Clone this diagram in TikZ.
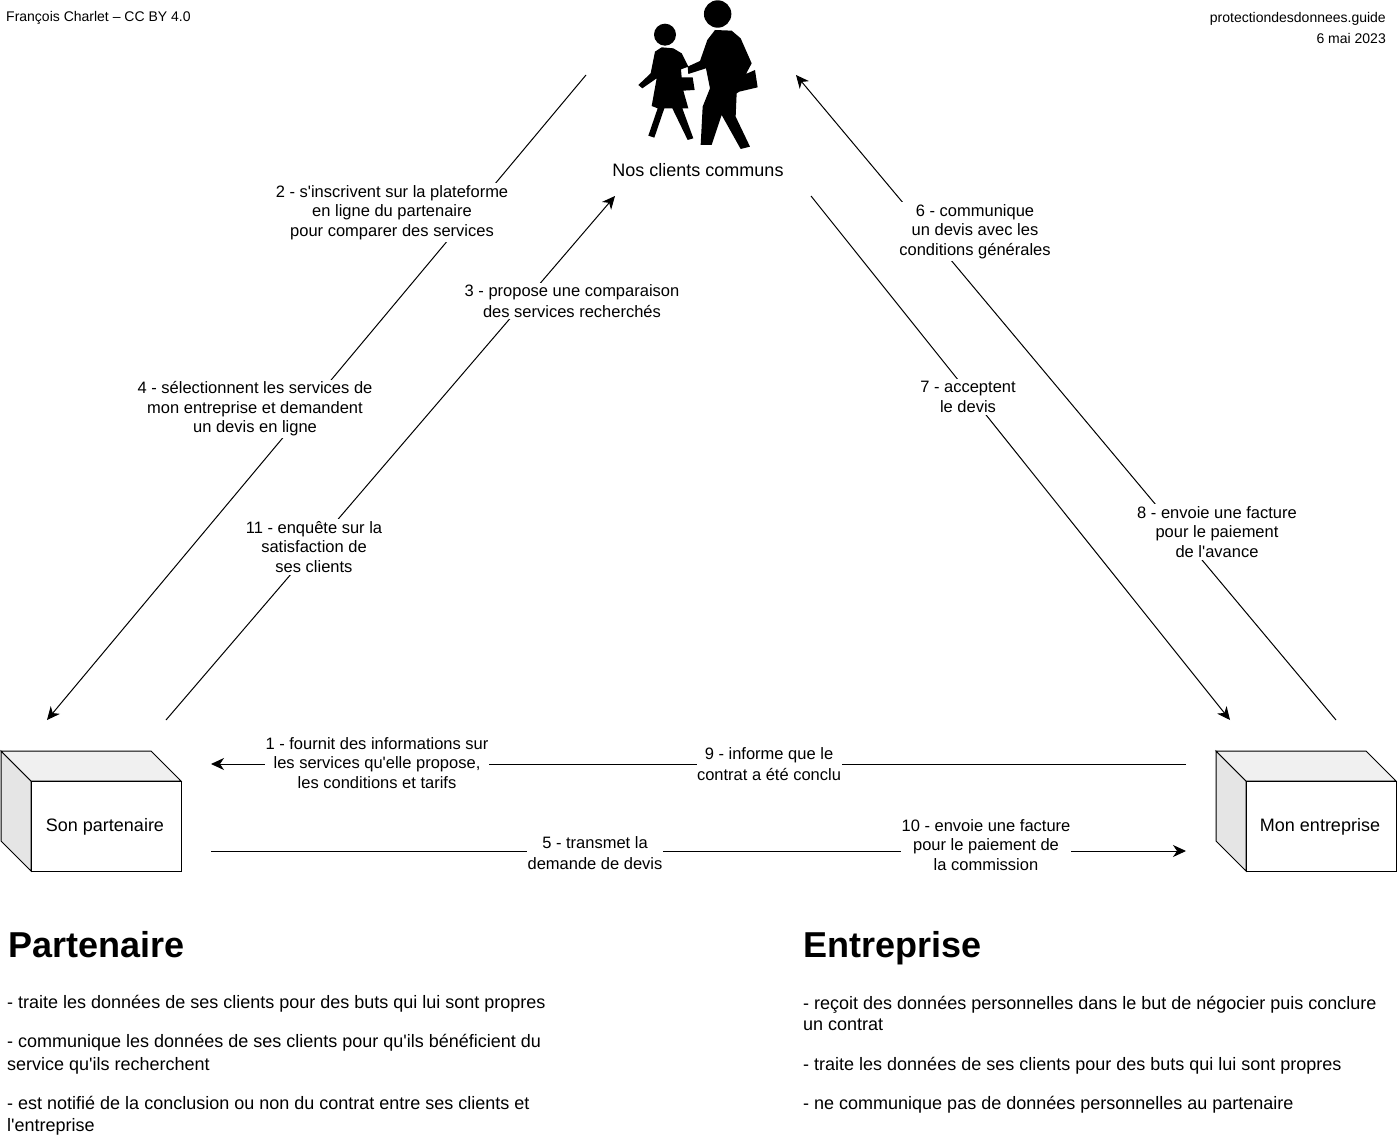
\documentclass[tikz,border=0pt]{standalone}
\usepackage{fontspec}
\setmainfont{Liberation Sans}[Ligatures=TeXOff]
\usepackage{tikz}
\usetikzlibrary{arrows.meta}

\begin{document}
\begin{tikzpicture}[x=1pt, y=-1pt, >=stealth,
		label_style/.style={fill=white, align=center, inner xsep=0.5pt, inner ysep=2pt, outer sep=0pt, font=\fontsize{16.5}{19.6}\selectfont},
		label_short/.style={label_style, font=\fontsize{16.5}{20.8}\selectfont},
		edge_style/.style={draw=black, line width=1pt},
		arrow_style/.style={edge_style, ->, >={Stealth[length=13pt,width=12pt,inset=4pt]}},
		box_style/.style={draw=black, line width=1pt, line join=miter},
		box_label/.style={label_style, box_style, minimum width=150pt, minimum height=90pt, inner sep=0pt, font=\fontsize{18}{22}\selectfont},
		note_style/.style={anchor=west, align=left, inner sep=0pt, font=\fontsize{18}{22}\selectfont},
		title_style/.style={anchor=base west, inner sep=0pt, font=\fontsize{36}{40}\selectfont\bfseries},
		small_style/.style={inner sep=0pt, align=right, font=\fontsize{14}{20.4}\selectfont}]

		\useasboundingbox (0,0) rectangle (1397,1142);

		% end points of the connectors
		\coordinate (a2) at (586,75);
		\coordinate (b2) at (47,720);
		\coordinate (a3) at (166,720);
		\coordinate (b3) at (615,196);
		\coordinate (a6) at (1336,720);
		\coordinate (b6) at (796,75);
		\coordinate (a7) at (811,196);
		\coordinate (b7) at (1230,720);
		\coordinate (a1) at (1186,764);
		\coordinate (b1) at (211,764);
		\coordinate (a5) at (211,851);
		\coordinate (b5) at (1186,851);

		\draw[arrow_style] (a2) -- (b2);
		\draw[arrow_style] (a3) -- (b3);
		\draw[arrow_style] (a6) -- (b6);
		\draw[arrow_style] (a7) -- (b7);
		\draw[arrow_style] (a1) -- (b1);
		\draw[arrow_style] (a5) -- (b5);

		\node[label_style] (n2) at (392,212.5) {2 - s'inscrivent sur la plateforme\\en ligne du partenaire\\pour comparer des services};
		\node[label_short] (n3) at (572,301) {3 - propose une comparaison\\des services recherchés};
		\node[label_style] (n4) at (255,409) {4 - sélectionnent les services de\\mon entreprise et demandent\\un devis en ligne};
		\node[label_style] (n11) at (314,547) {11 - enquête sur la\\satisfaction de\\ses clients};
		\node[label_style] (n6) at (975,231.5) {6 - communique\\un devis avec les\\conditions générales};
		\node[label_short] (n7) at (968,397) {7 - acceptent\\le devis};
		\node[label_style] (n8) at (1217,532) {8 - envoie une facture\\pour le paiement\\de l'avance};
		\node[label_style] (n1) at (377,763) {1 - fournit des informations sur\\les services qu'elle propose,\\les conditions et tarifs};
		\node[label_short] (n9) at (769,764) {9 - informe que le\\contrat a été conclu};
		\node[label_short] (n5) at (595,853) {5 - transmet la\\demande de devis};
		\node[label_style] (n10) at (986,845) {10 - envoie une facture\\pour le paiement de\\la commission};

		% son partenaire
		\draw[box_style, fill=black!10] (1,751) -- (31,781) -- (31,871) -- (1,841) -- cycle;
		\draw[box_style, fill=black!6] (1,751) -- (151,751) -- (181,781) -- (31,781) -- cycle;
		\node[box_label] (partner) at (106,826) {};
		\node[label_style, font=\fontsize{18}{22}\selectfont] (partner_text) at (105,827) {Son partenaire};

		% mon entreprise
		\draw[box_style, fill=black!10] (1216,751) -- (1246,781) -- (1246,871) -- (1216,841) -- cycle;
		\draw[box_style, fill=black!6] (1216,751) -- (1366,751) -- (1396,781) -- (1246,781) -- cycle;
		\node[box_label] (company) at (1321,826) {};
		\node[label_style, font=\fontsize{18}{22}\selectfont] (company_text) at (1320,827) {Mon entreprise};

		% nos clients
		\begin{scope}[shift={(620,0)}, x=0.3333pt, y=-0.3333pt]
			\fill (293,42) circle (13.7pt);
			\fill (135,104) circle (11pt);
			\fill (285,90) -- (335,92) -- (362,115) -- (395,190) -- (378,222) -- (405,210) -- (413,262) -- (358,275) -- (350,280) -- (347,350) -- (390,440) -- (362,447) -- (305,345) -- (275,435) -- (242,435) -- (248,320) -- (270,265) -- (258,205) -- (205,222) -- (203,200) -- (240,183) -- (262,120) -- cycle;
			\fill (125,142) -- (160,145) -- (185,160) -- (205,200) -- (183,208) -- (185,232) -- (218,232) -- (224,270) -- (190,272) -- (205,325) -- (187,325) -- (220,415) -- (203,420) -- (157,325) -- (133,325) -- (103,413) -- (85,407) -- (113,325) -- (95,318) -- (110,235) -- (67,265) -- (55,255) -- (92,220) -- (105,155) -- cycle;
		\end{scope}
		\node[label_style, font=\fontsize{18}{22}\selectfont] (clients) at (698,170) {Nos clients communs};

		% textes du haut
		\node[small_style, anchor=west] (credit) at (6,18) {François Charlet – CC BY 4.0};
		\node[small_style, anchor=north east] (site) at (1386,12.5) {protectiondesdonnees.guide\\6 mai 2023};

		% partenaire
		\node[title_style] (t1) at (8,957) {Partenaire};
		\node[note_style] (p1) at (7,1004) {- traite les données de ses clients pour des buts qui lui sont propres};
		\node[note_style] (p2) at (7,1054) {- communique les données de ses clients pour qu'ils bénéficient du\\[1pt]service qu'ils recherchent};
		\node[note_style] (p3) at (7,1116) {- est notifié de la conclusion ou non du contrat entre ses clients et\\l'entreprise};

		% entreprise
		\node[title_style] (t2) at (803,957) {Entreprise};
		\node[note_style] (e1) at (803,1013) {- reçoit des données personnelles dans le but de négocier puis conclure\\[-1pt]un contrat};
		\node[note_style] (e2) at (803,1066) {- traite les données de ses clients pour des buts qui lui sont propres};
		\node[note_style] (e3) at (803,1105) {- ne communique pas de données personnelles au partenaire};
\end{tikzpicture}
\end{document}
